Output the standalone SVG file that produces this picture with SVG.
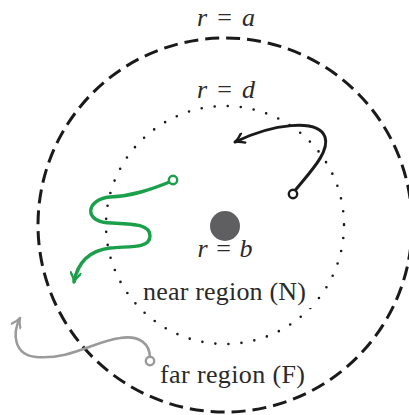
<svg xmlns="http://www.w3.org/2000/svg" width="409" height="415" viewBox="0 0 409 415">
<style>
.lbl{font-family:"Liberation Serif","DejaVu Serif",serif;font-size:26px;fill:#2a2a2a}
.m{font-style:italic}
.curve{fill:none;stroke-linecap:round}
.end{fill:#fff;stroke-width:2.4}
</style>
<defs>
<marker id="arrK" viewBox="-11 -6 13 12" refX="0" refY="0" markerWidth="13" markerHeight="12" orient="auto" markerUnits="userSpaceOnUse"><path d="M-9,-5 Q-4,-1 0,0 Q-4,1 -9,5" fill="none" stroke="#1a1a1a" stroke-width="2.4" stroke-linecap="round"/></marker>
<marker id="arrG" viewBox="-11 -6 13 12" refX="0" refY="0" markerWidth="13" markerHeight="12" orient="auto" markerUnits="userSpaceOnUse"><path d="M-9,-5 Q-4,-1 0,0 Q-4,1 -9,5" fill="none" stroke="#1aa04a" stroke-width="2.4" stroke-linecap="round"/></marker>
<marker id="arrY" viewBox="-11 -6 13 12" refX="0" refY="0" markerWidth="13" markerHeight="12" orient="auto" markerUnits="userSpaceOnUse"><path d="M-9,-5 Q-4,-1 0,0 Q-4,1 -9,5" fill="none" stroke="#9a9a9a" stroke-width="2.2" stroke-linecap="round"/></marker>
</defs>
<rect width="409" height="415" fill="#fff"/>
<g id="outer-boundary">
<circle cx="225" cy="225" r="187" fill="none" stroke="#1a1a1a" stroke-width="3" stroke-dasharray="14 7"/>
<text class="lbl" x="226" y="26" text-anchor="middle" textLength="58"><tspan class="m">r</tspan> = <tspan class="m">a</tspan></text>
</g>
<g id="near-boundary">
<circle cx="225" cy="225" r="119" fill="none" stroke="#1a1a1a" stroke-width="2.6" stroke-linecap="round" stroke-dasharray="0 13.1"/>
<text class="lbl" x="226" y="98" text-anchor="middle" textLength="58"><tspan class="m">r</tspan> = <tspan class="m">d</tspan></text>
</g>
<g id="source">
<circle cx="225" cy="226" r="15" fill="#5f5f61"/>
<text class="lbl" x="225" y="257" text-anchor="middle" textLength="55"><tspan class="m">r</tspan> = <tspan class="m">b</tspan></text>
</g>
<g id="near-region">
<rect x="138" y="280" width="174" height="28" fill="#fff"/>
<text class="lbl" x="143" y="300" textLength="163">near region (N)</text>
</g>
<g id="far-region">
<text class="lbl" x="160" y="383" textLength="145">far region (F)</text>
</g>
<g id="connectors">
<path class="curve" stroke="#1a1a1a" stroke-width="3" d="M293,193 C310,172 330,152 325,137 C318,118 272,124 235,142" marker-end="url(#arrK)"/>
<path class="curve" stroke="#1aa04a" stroke-width="3.4" d="M172,181 C150,190 132,196 110,197 C86,199 82,223 112,223 C132,224 150,224 150,236 C150,249 128,246 110,248 C86,251 77,266 74,282" marker-end="url(#arrG)"/>
<path class="curve" stroke="#9a9a9a" stroke-width="2.6" d="M150,358 C150,344 140,335 120,338 C95,341 70,360 36,357 C14,355 12,334 20,318" marker-end="url(#arrY)"/>
<circle class="end" cx="293" cy="194" r="4.2" stroke="#1a1a1a"/>
<circle class="end" cx="173" cy="180" r="4.2" stroke="#1aa04a"/>
<circle class="end" cx="150" cy="361" r="4.2" stroke="#9a9a9a"/>
</g>
</svg>
